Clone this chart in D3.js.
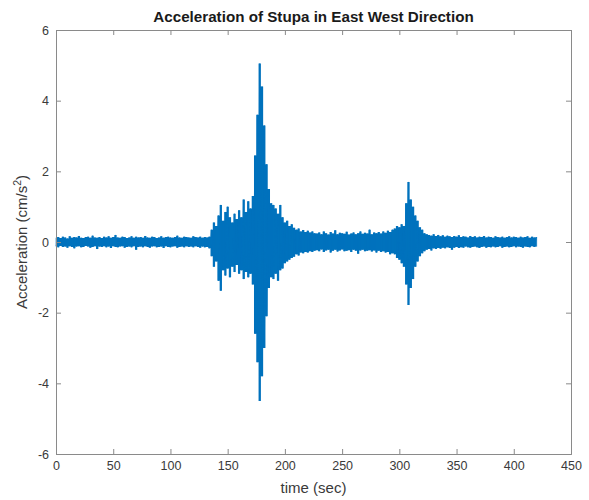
<!DOCTYPE html>
<html>
<head>
<meta charset="utf-8">
<script src="https://cdn.jsdelivr.net/npm/d3@7"></script>
<style>
  html, body { margin: 0; padding: 0; background: #ffffff; }
  svg { display: block; font-family: "Liberation Sans", Arial, Helvetica, sans-serif; }
</style>
</head>
<body>
<svg id="chart" width="589" height="500"></svg>
<script>
// Acceleration record, summarised in 2-second bins starting at t = 0 s:
// the largest positive and negative excursion inside each bin (cm/s^2).
const binSeconds = 2;

const peakUpper = [
  // 0 - 134 s
  0.12,0.14,0.11,0.15,0.13,0.10,0.16,0.12,0.14,0.13,
  0.17,0.12,0.11,0.14,0.15,0.12,0.18,0.13,0.12,0.14,
  0.11,0.15,0.13,0.16,0.12,0.14,0.20,0.13,0.12,0.15,
  0.14,0.11,0.13,0.16,0.12,0.15,0.13,0.14,0.12,0.17,
  0.13,0.12,0.15,0.14,0.11,0.13,0.16,0.12,0.14,0.15,
  0.13,0.12,0.14,0.18,0.13,0.12,0.15,0.14,0.13,0.12,
  0.16,0.14,0.13,0.15,0.12,0.14,0.13,0.15,
  // 136 - 172 s
  0.35,0.55,0.45,0.75,1.05,0.60,0.85,1.00,0.70,0.55,
  0.80,0.65,0.90,0.70,1.20,0.85,1.15,0.95,1.30,
  // 174 - 190 s
  2.45,3.60,5.05,4.40,3.30,2.20,1.50,1.10,1.05,
  // 192 - 226 s
  0.95,0.80,1.05,0.70,0.55,0.60,0.45,0.50,0.40,0.35,
  0.38,0.30,0.34,0.28,0.32,0.27,0.30,0.25,
  // 228 - 294 s
  0.24,0.27,0.22,0.30,0.25,0.21,0.28,0.24,0.33,0.22,
  0.26,0.25,0.23,0.29,0.21,0.24,0.27,0.22,0.25,0.30,
  0.23,0.26,0.24,0.35,0.22,0.27,0.25,0.28,0.24,0.30,
  0.26,0.32,0.28,0.35,
  // 296 - 320 s
  0.38,0.45,0.42,0.50,0.45,1.10,1.70,1.20,1.00,0.75,
  0.60,0.42,0.35,
  // 322 - 420 s
  0.25,0.22,0.20,0.18,0.22,0.17,0.20,0.16,0.19,0.15,
  0.18,0.16,0.14,0.17,0.15,0.19,0.14,0.16,0.15,0.13,
  0.17,0.14,0.16,0.13,0.15,0.14,0.17,0.13,0.15,0.14,
  0.12,0.16,0.14,0.13,0.15,0.12,0.14,0.16,0.13,0.15,
  0.14,0.12,0.15,0.13,0.14,0.16,0.12,0.15,0.13,0.14
];

const peakLower = [
  // 0 - 134 s
  -0.12,-0.15,-0.11,-0.14,-0.13,-0.16,-0.12,-0.14,-0.18,-0.13,
  -0.12,-0.15,-0.14,-0.11,-0.13,-0.16,-0.14,-0.12,-0.20,-0.13,
  -0.14,-0.12,-0.15,-0.13,-0.17,-0.12,-0.14,-0.15,-0.13,-0.12,
  -0.16,-0.14,-0.13,-0.15,-0.12,-0.22,-0.14,-0.13,-0.15,-0.12,
  -0.14,-0.16,-0.13,-0.12,-0.15,-0.14,-0.13,-0.17,-0.12,-0.14,
  -0.15,-0.13,-0.12,-0.16,-0.14,-0.13,-0.15,-0.12,-0.14,-0.13,
  -0.15,-0.12,-0.14,-0.16,-0.13,-0.15,-0.14,-0.18,
  // 136 - 172 s
  -0.40,-0.70,-0.55,-1.10,-1.38,-0.80,-0.95,-0.75,-1.00,-0.70,
  -0.85,-0.65,-0.90,-0.80,-1.05,-0.85,-1.00,-0.90,-1.20,
  // 174 - 190 s
  -2.60,-3.40,-4.50,-3.80,-3.00,-2.10,-1.30,-1.00,-1.05,
  // 192 - 226 s
  -0.90,-1.10,-0.80,-0.75,-0.60,-0.55,-0.50,-0.45,-0.42,-0.35,
  -0.38,-0.30,-0.32,-0.28,-0.30,-0.26,-0.28,-0.25,
  // 228 - 294 s
  -0.23,-0.26,-0.21,-0.28,-0.24,-0.22,-0.30,-0.25,-0.22,-0.27,
  -0.24,-0.21,-0.26,-0.25,-0.23,-0.28,-0.22,-0.25,-0.33,-0.24,
  -0.22,-0.26,-0.25,-0.23,-0.27,-0.24,-0.30,-0.25,-0.28,-0.26,
  -0.30,-0.28,-0.35,-0.32,
  // 296 - 320 s
  -0.35,-0.45,-0.50,-0.60,-0.70,-1.20,-1.78,-1.30,-1.05,-0.70,
  -0.55,-0.40,-0.32,
  // 322 - 420 s
  -0.26,-0.22,-0.20,-0.24,-0.18,-0.20,-0.17,-0.19,-0.16,-0.18,
  -0.15,-0.17,-0.22,-0.16,-0.14,-0.17,-0.15,-0.16,-0.13,-0.15,
  -0.16,-0.14,-0.13,-0.15,-0.17,-0.14,-0.13,-0.16,-0.14,-0.15,
  -0.13,-0.15,-0.14,-0.12,-0.16,-0.14,-0.13,-0.15,-0.14,-0.12,
  -0.15,-0.13,-0.14,-0.16,-0.13,-0.14,-0.15,-0.12,-0.14,-0.13
];

const xTicks = [0, 50, 100, 150, 200, 250, 300, 350, 400, 450];
const yTicks = [-6, -4, -2, 0, 2, 4, 6];

const titleText = "Acceleration of Stupa in East West Direction";
const xLabelText = "time (sec)";

// ---- layout ----
const svg = d3.select("#chart");
const plot = { left: 56, right: 571, top: 30, bottom: 454 };

const x = d3.scaleLinear().domain([0, 450]).range([plot.left, plot.right]);
const y = d3.scaleLinear().domain([-6, 6]).range([plot.bottom, plot.top]);

const axisColor = "#8a8a8a";
const textColor = "#3a3a3a";
const lineColor = "#0072BD";

// ---- trace ----
const bins = peakUpper.map((u, i) => ({ t: i * binSeconds, hi: u, lo: peakLower[i] }));

// dense core of the record: the band between the extremes of each bin
const band = d3.area()
  .curve(d3.curveStep)
  .x(d => x(d.t))
  .y0(d => y(d.lo))
  .y1(d => y(d.hi));

svg.append("path")
  .datum(bins)
  .attr("d", band)
  .attr("fill", lineColor)
  .attr("stroke", "none");

// swing of the signal through every bin, peak to trough
const tracePoints = [];
bins.forEach(d => {
  tracePoints.push([d.t, d.hi]);
  tracePoints.push([d.t, d.lo]);
});

const line = d3.line().x(d => x(d[0])).y(d => y(d[1]));

svg.append("path")
  .datum(tracePoints)
  .attr("d", line)
  .attr("fill", "none")
  .attr("stroke", lineColor)
  .attr("stroke-width", 0.6)
  .attr("stroke-linejoin", "miter");

// ---- axes (box with inward ticks on all four sides) ----
const tickLen = 5;
const plainNumber = d => String(d);

const axisBottom = d3.axisBottom(x).tickValues(xTicks).tickSize(-tickLen).tickPadding(7)
  .tickFormat(plainNumber);
const axisTop = d3.axisTop(x).tickValues(xTicks).tickSize(-tickLen).tickFormat("");
const axisLeft = d3.axisLeft(y).tickValues(yTicks).tickSize(-tickLen).tickPadding(7)
  .tickFormat(plainNumber);
const axisRight = d3.axisRight(y).tickValues(yTicks).tickSize(-tickLen).tickFormat("");

function styleAxis(g) {
  g.select(".domain").attr("stroke", axisColor).attr("stroke-width", 1);
  g.selectAll(".tick line").attr("stroke", axisColor).attr("stroke-width", 1);
  g.selectAll(".tick text")
    .attr("fill", textColor)
    .style("font-size", "12.5px")
    .style("font-family", "\"Liberation Sans\", Arial, Helvetica, sans-serif");
}

svg.append("g").attr("transform", `translate(0,${plot.bottom})`).call(axisBottom).call(styleAxis);
svg.append("g").attr("transform", `translate(0,${plot.top})`).call(axisTop).call(styleAxis);
svg.append("g").attr("transform", `translate(${plot.left},0)`).call(axisLeft).call(styleAxis);
svg.append("g").attr("transform", `translate(${plot.right},0)`).call(axisRight).call(styleAxis);

// ---- text ----
svg.append("text")
  .attr("x", (plot.left + plot.right) / 2)
  .attr("y", 22)
  .attr("text-anchor", "middle")
  .attr("fill", "#1a1a1a")
  .style("font-size", "15.2px")
  .style("font-weight", "bold")
  .text(titleText);

svg.append("text")
  .attr("x", (plot.left + plot.right) / 2)
  .attr("y", 493)
  .attr("text-anchor", "middle")
  .attr("fill", textColor)
  .style("font-size", "15px")
  .text(xLabelText);

const yLabel = svg.append("text")
  .attr("transform", `translate(27,${(plot.top + plot.bottom) / 2}) rotate(-90)`)
  .attr("text-anchor", "middle")
  .attr("fill", textColor)
  .style("font-size", "15px");
yLabel.append("tspan").text("Acceleration (cm/s");
yLabel.append("tspan").attr("dy", -6).style("font-size", "10.5px").text("2");
yLabel.append("tspan").attr("dy", 6).text(")");
</script>
</body>
</html>
